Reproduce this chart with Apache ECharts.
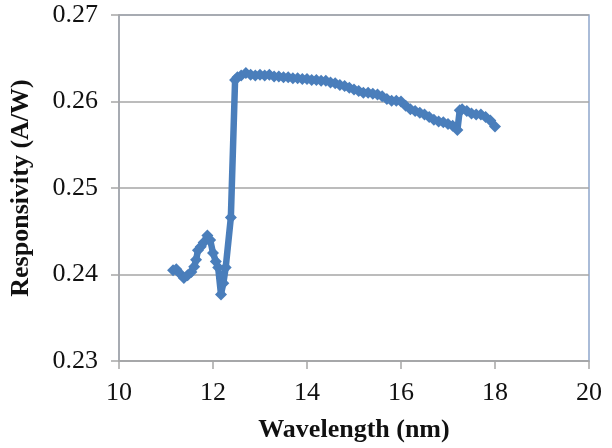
<!DOCTYPE html>
<html>
<head>
<meta charset="utf-8">
<script src="https://cdn.jsdelivr.net/npm/echarts@6/dist/echarts.min.js"></script>
<style>
  html, body { margin: 0; padding: 0; background: #fff; }
  #chart { width: 612px; height: 448px; }
</style>
</head>
<body>
<div id="chart"></div>
<script>
// wavelength (nm) and responsivity (A/W)
var wavelength = [11.15, 11.22, 11.3, 11.38, 11.46, 11.54, 11.6, 11.64, 11.68, 11.74, 11.8, 11.88, 11.94, 12.0, 12.06, 12.11, 12.17, 12.22, 12.27, 12.38,
  12.47, 12.52, 12.6, 12.7, 12.8, 12.9, 13.0, 13.1, 13.2, 13.3, 13.4, 13.5, 13.6, 13.7, 13.8, 13.9, 14.0,
  14.1, 14.2, 14.3, 14.4, 14.5, 14.6, 14.7, 14.8, 14.9, 15.0, 15.1, 15.2, 15.3, 15.4, 15.5, 15.6, 15.7, 15.8, 15.9, 16.0,
  16.1, 16.2, 16.3, 16.4, 16.5, 16.6, 16.7, 16.8, 16.9, 17.0, 17.1, 17.2, 17.25, 17.3, 17.4, 17.5, 17.6, 17.7, 17.8, 17.9, 18.0];
var responsivity = [0.2405, 0.2406, 0.2401, 0.2396, 0.2399, 0.2403, 0.2409, 0.2417, 0.2428, 0.2432, 0.2437, 0.2445, 0.2440, 0.2425, 0.2415, 0.2408, 0.2377, 0.2390, 0.2408, 0.2466,
  0.2625, 0.2628, 0.2630, 0.2633, 0.2631, 0.2630, 0.2631, 0.2630, 0.2631, 0.2629, 0.2629, 0.2628, 0.2628, 0.2627, 0.2627, 0.2626, 0.2626,
  0.2625, 0.2625, 0.2624, 0.2624, 0.2622, 0.2621, 0.2619, 0.2618, 0.2616, 0.2614, 0.2612, 0.2610, 0.2610, 0.2609, 0.2608, 0.2606, 0.2603, 0.2601, 0.2601, 0.2600,
  0.2595, 0.2591, 0.2589, 0.2587, 0.2585, 0.2582, 0.2579, 0.2577, 0.2576, 0.2574, 0.2572, 0.2567, 0.2590, 0.2591, 0.2589, 0.2586, 0.2585, 0.2585, 0.2582, 0.2578, 0.2571];

var xTicks = { min: 10, max: 20, interval: 2 };
var yTicks = { min: 0.23, max: 0.27, interval: 0.01 };

var chart = echarts.init(document.getElementById("chart"));

var points = wavelength.map(function(x, i) { return [x, responsivity[i]]; });

var option = {
    animation: false,
    backgroundColor: '#fff',
    textStyle: { fontFamily: 'Liberation Serif' },
    grid: {
        left: 118,
        right: 23,
        top: 15,
        bottom: 85,
        show: true,
        borderColor: '#8ea6cc',
        borderWidth: 1.5
    },
    xAxis: {
        type: 'value',
        min: xTicks.min,
        max: xTicks.max,
        interval: xTicks.interval,
        name: 'Wavelength (nm)',
        nameLocation: 'middle',
        nameGap: 56,
        nameTextStyle: { fontSize: 26, fontWeight: 'bold', color: '#111', fontFamily: 'Liberation Serif' },
        axisLine: { show: true, lineStyle: { color: '#a6a6a6', width: 1.5 } },
        axisTick: { show: true, length: 8, lineStyle: { color: '#a6a6a6', width: 1.5 } },
        axisLabel: { fontSize: 26, color: '#111', margin: 19, fontFamily: 'Liberation Serif' },
        splitLine: { show: false }
    },
    yAxis: {
        type: 'value',
        min: yTicks.min,
        max: yTicks.max,
        interval: yTicks.interval,
        name: 'Responsivity (A/W)',
        nameLocation: 'middle',
        nameGap: 85,
        nameTextStyle: { fontSize: 26, fontWeight: 'bold', color: '#111', fontFamily: 'Liberation Serif' },
        axisLine: { show: true, lineStyle: { color: '#a6a6a6', width: 1.5 } },
        axisTick: { show: true, length: 8, lineStyle: { color: '#a6a6a6', width: 1.5 } },
        axisLabel: {
            fontSize: 26, color: '#111', margin: 21, fontFamily: 'Liberation Serif',
            formatter: function(v) { return v.toFixed(2); }
        },
        splitLine: { show: true, lineStyle: { color: '#a6a6a6', width: 1.5 } }
    },
    series: [{
        type: 'line',
        data: points,
        symbol: 'diamond',
        symbolSize: 12,
        showAllSymbol: true,
        lineStyle: { color: '#4a7ebb', width: 6.5 },
        itemStyle: { color: '#4a7ebb' }
    }]
};

chart.setOption(option);
</script>
</body>
</html>
